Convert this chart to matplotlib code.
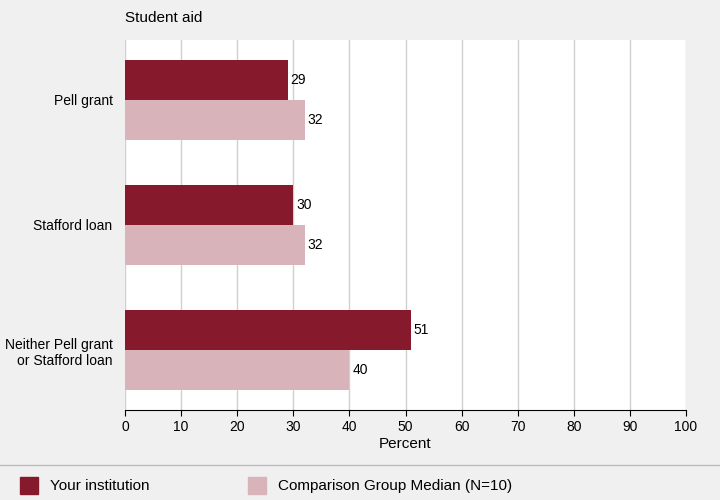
import numpy as np
import matplotlib
matplotlib.use("Agg")
import matplotlib.pyplot as plt
from matplotlib.patches import Rectangle
from matplotlib.lines import Line2D

plt.rcParams["font.family"] = "Liberation Sans"

categories = ["Pell grant", "Stafford loan", "Neither Pell grant\nor Stafford loan"]
your_inst = [29, 30, 51]
comparison = [32, 32, 40]
xticks = list(range(0, 101, 10))

DARK = "#861a2c"
LIGHT = "#d8b4ba"
BG = "#f0f0f0"

fig = plt.figure(figsize=(7.2, 5.0), dpi=100, facecolor=BG)
ax = fig.add_axes([125 / 720, 1 - 410 / 500, 561 / 720, 370 / 500])
ax.set_facecolor("white")

y = np.arange(len(categories)) + 0.48
h = 0.32
b1 = ax.barh(y - h / 2, your_inst, height=h, color=DARK, zorder=3)
b2 = ax.barh(y + h / 2, comparison, height=h, color=LIGHT, zorder=3)
for bars, vals in ((b1, your_inst), (b2, comparison)):
    for rect, v in zip(bars, vals):
        ax.text(v + 0.5, rect.get_y() + rect.get_height() / 2, str(v),
                va="center", ha="left", fontsize=10, color="black")

ax.set_xlim(0, 100)
ax.set_ylim(2.96, 0)
ax.set_xticks(xticks)
ax.set_yticks(y)
ax.set_yticklabels(categories, fontsize=10)
ax.tick_params(axis="y", length=0, pad=9)
ax.tick_params(axis="x", labelsize=10, length=4)
ax.grid(axis="x", color="#d0d0d0", lw=1, zorder=0)
for s in ("top", "right", "left"):
    ax.spines[s].set_visible(False)
ax.spines["bottom"].set_color("black")
ax.set_xlabel("Percent", fontsize=11, labelpad=2)

fig.text(125 / 720, 1 - 18 / 500, "Student aid", fontsize=11, va="center", ha="left")

# legend strip
fig.add_artist(Line2D([0, 1], [1 - 465 / 500] * 2, color="#bbbbbb", lw=1))
fig.add_artist(Rectangle((20 / 720, 1 - 494 / 500), 18 / 720, 17 / 500, color=DARK,
                         transform=fig.transFigure))
fig.text(50 / 720, 1 - 486 / 500, "Your institution", fontsize=11, va="center")
fig.add_artist(Rectangle((248 / 720, 1 - 494 / 500), 18 / 720, 17 / 500, color=LIGHT,
                         transform=fig.transFigure))
fig.text(278 / 720, 1 - 486 / 500, "Comparison Group Median (N=10)", fontsize=11, va="center")

fig.savefig("out.png", dpi=100, facecolor=BG)
